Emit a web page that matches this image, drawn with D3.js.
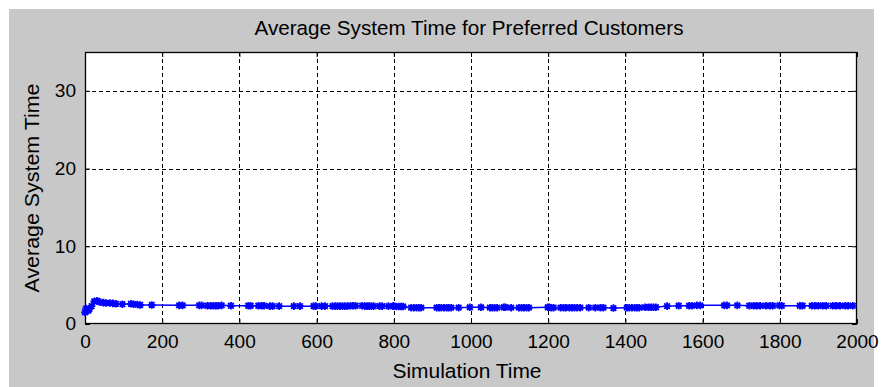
<!DOCTYPE html>
<html><head><meta charset="utf-8">
<script src="https://cdn.jsdelivr.net/npm/d3@7/dist/d3.min.js"></script>
<style>body{margin:0;background:#fff}svg{display:block}text{font-family:"Liberation Sans",Arial,sans-serif;fill:#000}</style>
</head><body><svg id="c" width="881" height="387"></svg>
<script>
const title = "Average System Time for Preferred Customers";
const xLabel = "Simulation Time";
const yLabel = "Average System Time";
const xTicks = [0,200,400,600,800,1000,1200,1400,1600,1800,2000];
const yTicks = [0,10,20,30];
const simTime = [0,3,8,11,17,24,31,40,48,54,65,72,80,97,119,126,136,143,173,244,253,296,302,317,326,333,339,345,354,378,423,429,449,458,464,479,486,503,541,557,592,598,613,622,641,648,654,660,667,673,680,688,694,701,718,725,731,736,742,748,763,770,786,798,800,807,813,819,824,845,852,859,865,871,911,917,923,930,937,942,949,968,997,1026,1049,1055,1061,1068,1085,1089,1104,1124,1131,1137,1144,1150,1199,1203,1208,1214,1232,1240,1246,1255,1262,1268,1275,1283,1305,1322,1335,1343,1369,1404,1410,1417,1424,1430,1436,1451,1460,1467,1473,1479,1508,1538,1565,1572,1585,1594,1656,1663,1690,1721,1732,1740,1749,1764,1775,1782,1799,1805,1852,1859,1883,1891,1900,1911,1920,1937,1946,1956,1969,1977,1989];
const avgTime = [1.5,2.0,1.7,1.9,2.3,2.9,3.0,2.8,2.75,2.7,2.7,2.65,2.6,2.55,2.6,2.55,2.5,2.45,2.45,2.4,2.4,2.4,2.4,2.35,2.35,2.35,2.35,2.35,2.4,2.35,2.35,2.35,2.35,2.35,2.35,2.3,2.3,2.3,2.3,2.3,2.3,2.3,2.3,2.3,2.3,2.3,2.3,2.3,2.3,2.3,2.3,2.35,2.35,2.35,2.35,2.3,2.3,2.3,2.3,2.3,2.3,2.3,2.3,2.3,2.3,2.25,2.25,2.25,2.25,2.1,2.1,2.1,2.1,2.1,2.1,2.1,2.1,2.1,2.1,2.1,2.1,2.1,2.15,2.15,2.1,2.1,2.1,2.1,2.15,2.15,2.1,2.1,2.1,2.1,2.1,2.1,2.15,2.15,2.1,2.1,2.1,2.1,2.1,2.1,2.1,2.1,2.1,2.1,2.1,2.1,2.1,2.1,2.05,2.1,2.1,2.1,2.1,2.1,2.1,2.15,2.15,2.15,2.15,2.15,2.3,2.35,2.35,2.35,2.4,2.4,2.4,2.4,2.4,2.35,2.35,2.35,2.35,2.35,2.35,2.35,2.4,2.35,2.35,2.35,2.35,2.35,2.35,2.35,2.35,2.35,2.35,2.35,2.35,2.35,2.35];

const svg = d3.select("#c");
const L=85, R=857, T=52, B=324;
svg.append("rect").attr("x",9).attr("y",9).attr("width",865).attr("height",378).attr("fill","#c8c8c8");
svg.append("rect").attr("x",L).attr("y",T).attr("width",R-L).attr("height",B-T).attr("fill","#fff");

const x = d3.scaleLinear().domain([0,2000]).range([L,R]);
const y = d3.scaleLinear().domain([0,35]).range([B,T]);

const g = svg.append("g").attr("stroke","#000").attr("stroke-width",1).attr("stroke-dasharray","4,3").attr("shape-rendering","crispEdges");
xTicks.filter(t=>t>0&&t<2000).forEach(t=>g.append("line").attr("x1",Math.round(x(t))+0.5).attr("x2",Math.round(x(t))+0.5).attr("y1",T).attr("y2",B));
yTicks.filter(t=>t>0).forEach(t=>g.append("line").attr("y1",Math.round(y(t))+0.5).attr("y2",Math.round(y(t))+0.5).attr("x1",L).attr("x2",R));

function styleAxis(sel){sel.select(".domain").remove();sel.selectAll(".tick line").attr("stroke","#000");}
const fmt = d3.format("d");
const xb = svg.append("g").attr("transform",`translate(0,${B})`).call(d3.axisBottom(x).tickValues(xTicks).tickFormat(fmt).tickSizeInner(-5).tickPadding(11));
const xt = svg.append("g").attr("transform",`translate(0,${T})`).call(d3.axisTop(x).tickValues(xTicks).tickFormat("").tickSizeInner(-5));
const yl = svg.append("g").attr("transform",`translate(${L},0)`).call(d3.axisLeft(y).tickValues(yTicks).tickFormat(fmt).tickSizeInner(-5).tickPadding(9));
const yr = svg.append("g").attr("transform",`translate(${R},0)`).call(d3.axisRight(y).tickValues(yTicks).tickFormat("").tickSizeInner(-5));
[xb,xt,yl,yr].forEach(styleAxis);
[xb,yl].forEach(a=>a.selectAll(".tick text").attr("font-size",18.5).attr("font-family","Liberation Sans, Arial, sans-serif").attr("fill","#000"));
xb.selectAll(".tick text").each(function(){const t=d3.select(this);const yy=+t.attr("y");t.attr("y",null).attr("dy",null).attr("transform",`translate(0,${yy+13}) scale(1.03,1)`);});
yl.selectAll(".tick text").each(function(){const t=d3.select(this);const xx=+t.attr("x");t.attr("x",null).attr("transform",`translate(${xx},0) scale(1.03,1)`);});

svg.append("rect").attr("x",L+0.5).attr("y",T+0.5).attr("width",R-L-1).attr("height",B-T-1).attr("fill","none").attr("stroke","#000").attr("stroke-width",1.3);

const pts = simTime.map((t,i)=>[t,avgTime[i]]);
svg.append("path").datum(pts).attr("fill","none").attr("stroke","#0000ff").attr("stroke-width",1.5)
  .attr("d",d3.line().x(d=>x(d[0])).y(d=>y(d[1])));
const s=3.8, s2=2.8;
const star = `M${-s},0L${s},0M0,${-s}L0,${s}M${-s2},${-s2}L${s2},${s2}M${-s2},${s2}L${s2},${-s2}`;
svg.append("g").selectAll("path").data(pts).join("path")
  .attr("transform",d=>`translate(${x(d[0])},${y(d[1])})`).attr("d",star)
  .attr("stroke","#0000ff").attr("stroke-width",1.8).attr("fill","none");
svg.append("g").selectAll("circle").data(pts).join("circle")
  .attr("cx",d=>x(d[0])).attr("cy",d=>y(d[1])).attr("r",2.6).attr("fill","#0000ff");

svg.append("text").attr("x",469).attr("y",35).attr("text-anchor","middle").attr("font-size",20.5).attr("textLength",429).attr("lengthAdjust","spacingAndGlyphs").text(title);
svg.append("text").attr("x",467).attr("y",378).attr("text-anchor","middle").attr("font-size",20.5).attr("textLength",149).attr("lengthAdjust","spacingAndGlyphs").text(xLabel);
svg.append("text").attr("transform","translate(39,188) rotate(-90)").attr("text-anchor","middle").attr("font-size",20.5).attr("textLength",209).attr("lengthAdjust","spacingAndGlyphs").text(yLabel);
</script></body></html>
